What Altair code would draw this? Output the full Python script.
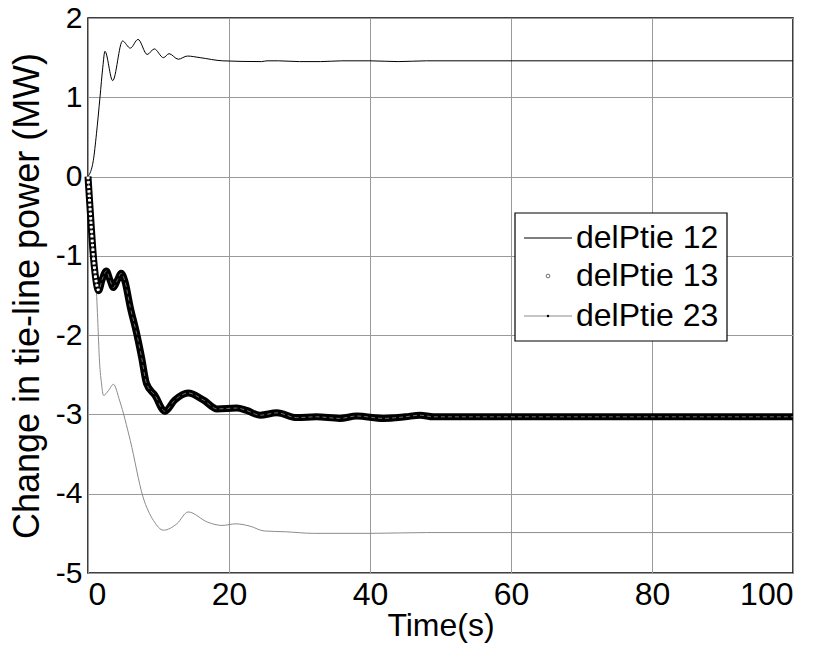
import altair as alt
import pandas as pd

# Tie-line power deviation after a load step (three-area system)
t12 = [0, 0.75, 1.2, 1.7, 2.1, 2.4, 3.5, 4.9, 6.0, 7.1, 8.4, 9.4, 10.7, 11.5, 12.8,
       14.1, 15.9, 19.1, 24.6, 25.4, 27, 30, 33, 36, 40, 44, 48, 60, 80, 100]
p12 = [0, 0.20, 0.54, 1.00, 1.38, 1.58, 1.21, 1.71, 1.62, 1.73, 1.54, 1.61, 1.50, 1.55, 1.48,
       1.52, 1.50, 1.46, 1.45, 1.46, 1.46, 1.45, 1.45, 1.46, 1.46, 1.45, 1.46, 1.46, 1.46, 1.46]

t13 = [0, 0.19, 0.43, 0.66, 0.9, 1.13, 1.5, 2.0, 2.6, 3.1, 3.6, 4.2, 4.7, 5.2, 6.0, 6.9,
       7.6, 8.3, 9.5, 10.9, 12.3, 14.2, 16.4, 18.3, 21.1, 22.5, 24.4, 26.8, 29.6, 32.4,
       35.7, 38.1, 41.9, 45, 47.1, 49, 60, 80, 100]
p13 = [0, -0.26, -0.59, -0.89, -1.14, -1.31, -1.44, -1.30, -1.19, -1.30, -1.40, -1.30, -1.22,
       -1.31, -1.65, -1.98, -2.28, -2.61, -2.76, -2.96, -2.82, -2.73, -2.82, -2.93, -2.92,
       -2.95, -3.01, -2.98, -3.04, -3.03, -3.05, -3.02, -3.05, -3.03, -3.01, -3.03, -3.03,
       -3.03, -3.03]

t23 = [0, 0.19, 0.43, 0.66, 0.9, 1.13, 1.4, 1.6, 1.9, 2.2, 2.9, 3.6, 4.5, 6.0, 7.8, 9.3,
       10.7, 12.6, 14.2, 17, 19, 21, 23, 25, 28, 32, 40, 48, 60, 80, 100]
p23 = [0, -0.26, -0.59, -0.89, -1.14, -1.35, -1.85, -2.28, -2.60, -2.76, -2.70, -2.62, -2.83,
       -3.33, -4.04, -4.34, -4.46, -4.38, -4.23, -4.36, -4.40, -4.38, -4.41, -4.47, -4.48,
       -4.50, -4.50, -4.49, -4.49, -4.49, -4.49]

series_names = ["delPtie 12", "delPtie 13", "delPtie 23"]
x_ticks = [0, 20, 40, 60, 80, 100]
y_ticks = [-5, -4, -3, -2, -1, 0, 1, 2]

FONT = "Liberation Sans, Arial"

df12 = pd.DataFrame({"t": t12, "p": p12})
df13 = pd.DataFrame({"t": t13, "p": p13})
df23 = pd.DataFrame({"t": t23, "p": p23})

xs = alt.Scale(domain=[0, 100], nice=False)
ys = alt.Scale(domain=[-5, 2], nice=False)

x_axis = alt.Axis(values=x_ticks, title="Time(s)", grid=True, ticks=False, domain=False,
                  labelExpr="'' + datum.value", labelFontSize=32, titleFontSize=32)
y_axis = alt.Axis(values=y_ticks, title="Change in tie-line power (MW)", grid=True,
                  ticks=False, domain=False, labelExpr="'' + datum.value",
                  titleFontSize=36)

X = alt.X("t:Q", scale=xs, axis=x_axis)
Y = alt.Y("p:Q", scale=ys, axis=y_axis)

line23 = alt.Chart(df23).mark_line(color="#8c8c8c", strokeWidth=1, interpolate="monotone").encode(x=X, y=Y)
line12 = alt.Chart(df12).mark_line(color="black", strokeWidth=1, interpolate="monotone").encode(x=X, y=Y)
thick13 = alt.Chart(df13).mark_line(color="black", strokeWidth=7, interpolate="monotone").encode(x=X, y=Y)
inner13 = alt.Chart(df13).mark_line(color="#6e6e6e", strokeWidth=1, strokeDash=[4, 3],
                                    interpolate="monotone").encode(x=X, y=Y)
open13 = alt.Chart(df13).transform_filter("datum.t <= 1.5").mark_line(
    color="white", strokeWidth=3, strokeDash=[2.5, 2], interpolate="monotone").encode(x=X, y=Y)

# Legend box drawn by hand
one = pd.DataFrame({"k": [0]})
box = alt.Chart(one).mark_rect(fill="white", stroke="black", strokeWidth=1.2).encode(
    x=alt.value(427), x2=alt.value(639), y=alt.value(195), y2=alt.value(323))
row_y = [220, 258, 298]
leg = [box]
leg.append(alt.Chart(one).mark_rule(color="black", strokeWidth=1).encode(
    x=alt.value(436), x2=alt.value(484), y=alt.value(row_y[0])))
leg.append(alt.Chart(one).mark_point(shape="circle", filled=False, color="black", size=14,
                                     strokeWidth=0.8).encode(x=alt.value(460), y=alt.value(row_y[1])))
leg.append(alt.Chart(one).mark_rule(color="#8c8c8c", strokeWidth=1).encode(
    x=alt.value(436), x2=alt.value(484), y=alt.value(row_y[2])))
leg.append(alt.Chart(one).mark_point(shape="circle", filled=True, color="black", size=6,
                                     opacity=1).encode(x=alt.value(460), y=alt.value(row_y[2])))
for name, yy in zip(series_names, row_y):
    leg.append(alt.Chart(one).mark_text(text=name, align="left", baseline="middle", fontSize=32,
                                        font=FONT, color="black").encode(
        x=alt.value(488), y=alt.value(yy)))

chart = alt.layer(line23, line12, thick13, inner13, open13, *leg).properties(
    width=705, height=555,
    autosize=alt.AutoSizeParams(type="none"),
    padding={"left": 88, "top": 18, "right": 31, "bottom": 80},
).configure_view(
    stroke="black", strokeWidth=1.5
).configure_axis(
    gridColor="#9a9a9a", gridWidth=1, gridOpacity=1,
    labelFont=FONT, titleFont=FONT, labelFontSize=30, titleFontSize=30,
    labelColor="black", titleColor="black", titleFontWeight="normal",
).configure_axisX(
    labelPadding=6, titlePadding=0,
).configure_axisY(
    labelPadding=6, titlePadding=9,
)

chart.save("out.html", embed_options={"renderer": "svg", "actions": False})
